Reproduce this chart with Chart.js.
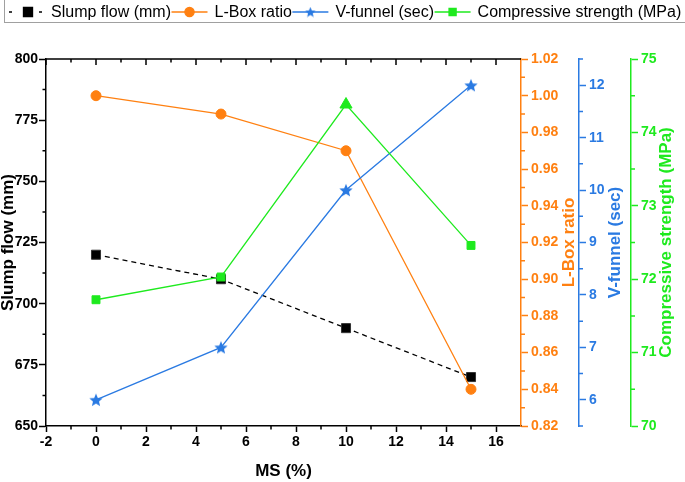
<!DOCTYPE html>
<html>
<head>
<meta charset="utf-8">
<script src="https://cdn.jsdelivr.net/npm/chart.js@4"></script>
<style>
html,body{margin:0;padding:0;background:#fff;}
#wrap{width:685px;height:482px;position:relative;}
</style>
</head>
<body>
<div id="wrap"><canvas id="c" width="685" height="482"></canvas></div>
<script>
// ---- data ----
const msPct = [0, 5, 10, 15];
const slumpFlow = [720, 710, 690, 670];
const lBoxRatio = [1.00, 0.99, 0.97, 0.84];
const vFunnel = [6.0, 7.0, 10.0, 12.0];
const compStrength = [71.72, 72.03, 74.38, 72.46];
const compMarkers = ['rect', 'rect', 'triangle', 'rect'];

const seriesLabels = ['Slump flow (mm)', 'L-Box ratio', 'V-funnel (sec)', 'Compressive strength (MPa)'];

// ---- ticks ----
const xTicks = [-2, 0, 2, 4, 6, 8, 10, 12, 14, 16];
const slumpTicks = [650, 675, 700, 725, 750, 775, 800];
const lBoxTicks = [0.82, 0.84, 0.86, 0.88, 0.90, 0.92, 0.94, 0.96, 0.98, 1.00, 1.02];
const vFunnelTicks = [6, 7, 8, 9, 10, 11, 12];
const compTicks = [70, 71, 72, 73, 74, 75];

const xMinor = [-1, 1, 3, 5, 7, 9, 11, 13, 15];
const slumpMinor = [662.5, 687.5, 712.5, 737.5, 762.5, 787.5];
const lBoxMinor = [0.83, 0.85, 0.87, 0.89, 0.91, 0.93, 0.95, 0.97, 0.99, 1.01];
const vFunnelMinor = [5.5, 6.5, 7.5, 8.5, 9.5, 10.5, 11.5, 12.5];
const compMinor = [70.5, 71.5, 72.5, 73.5, 74.5];

const axisTitles = {x: 'MS (%)', y: 'Slump flow (mm)', y1: 'L-Box ratio', y2: 'V-funnel (sec)', y3: 'Compressive strength (MPa)'};

// ---- styles ----
const F = "'Liberation Sans', Arial, sans-serif";
const C_BLACK = '#000000';
const C_ORANGE = '#FF8011';
const C_BLUE = '#2A7AE2';
const C_GREEN = '#1EEA1E';
const TICK_SIZE = 14;

Chart.defaults.font.family = F;
Chart.defaults.font.size = TICK_SIZE;
Chart.defaults.font.weight = 'bold';

function starCanvas(size, color) {
  const c = document.createElement('canvas');
  c.width = size; c.height = size;
  const g = c.getContext('2d');
  g.fillStyle = color;
  g.beginPath();
  const R = size / 2, r = R * 0.45, cx = size / 2, cy = size / 2 + R * 0.1;
  for (let i = 0; i < 10; i++) {
    const a = -Math.PI / 2 + i * Math.PI / 5;
    const rad = (i % 2) ? r : R;
    g.lineTo(cx + rad * Math.cos(a), cy + rad * Math.sin(a));
  }
  g.closePath();
  g.fill();
  return c;
}
const starBig = starCanvas(14, C_BLUE);
const starSmall = starCanvas(11, C_BLUE);

function pts(ys) { return msPct.map((x, i) => ({x: x, y: ys[i]})); }
function setTicks(arr) { return s => { s.ticks = arr.map(v => ({value: v})); }; }

function tickFont() { return {family: F, size: TICK_SIZE, weight: 'bold'}; }

function yAxis(opts) {
  return Object.assign({
    type: 'linear',
    ticks: {color: opts.color, font: tickFont(), padding: 3, autoSkip: false, callback: opts.fmt},
    grid: {display: true, drawOnChartArea: false, tickLength: 7, tickColor: opts.color, tickWidth: 1.5},
    border: {display: true, color: opts.color, width: 1.5},
    title: {display: false}
  }, opts.extra);
}

const decor = {
  id: 'decor',
  afterDraw(chart) {
    const ctx = chart.ctx, ca = chart.chartArea, sc = chart.scales;
    ctx.save();
    ctx.lineWidth = 1.5;
    // top frame with inward ticks
    ctx.strokeStyle = C_BLACK;
    ctx.beginPath();
    ctx.moveTo(ca.left, ca.top); ctx.lineTo(ca.right, ca.top);
    xTicks.forEach(v => { const px = sc.x.getPixelForValue(v); ctx.moveTo(px, ca.top); ctx.lineTo(px, ca.top + 6); });
    xMinor.forEach(v => { const px = sc.x.getPixelForValue(v); ctx.moveTo(px, ca.top); ctx.lineTo(px, ca.top + 3.5); });
    // bottom minor ticks
    xMinor.forEach(v => { const px = sc.x.getPixelForValue(v); ctx.moveTo(px, ca.bottom); ctx.lineTo(px, ca.bottom + 3.5); });
    // left minor ticks
    slumpMinor.forEach(v => { const py = sc.y.getPixelForValue(v); ctx.moveTo(ca.left, py); ctx.lineTo(ca.left - 3.5, py); });
    ctx.stroke();
    // right axes minor ticks
    [[sc.y1, lBoxMinor, C_ORANGE], [sc.y2, vFunnelMinor, C_BLUE], [sc.y3, compMinor, C_GREEN]].forEach(([s, arr, col]) => {
      ctx.strokeStyle = col;
      ctx.beginPath();
      arr.forEach(v => { const py = s.getPixelForValue(v); ctx.moveTo(s.left, py); ctx.lineTo(s.left + 4, py); });
      ctx.stroke();
    });
    // right axis titles (reading bottom to top)
    const cy = (ca.top + ca.bottom) / 2;
    ctx.font = "bold 17px " + F;
    ctx.textAlign = 'center';
    ctx.textBaseline = 'middle';
    [[sc.y1, axisTitles.y1, C_ORANGE, 48.5], [sc.y2, axisTitles.y2, C_BLUE, 36.5], [sc.y3, axisTitles.y3, C_GREEN, 35]].forEach(([s, t, col, off]) => {
      ctx.save();
      ctx.translate(s.left + off, cy);
      ctx.rotate(-Math.PI / 2);
      ctx.fillStyle = col;
      ctx.fillText(t, 0, 0);
      ctx.restore();
    });
    // legend
    ctx.strokeStyle = '#A0A0A0';
    ctx.lineWidth = 1;
    ctx.strokeRect(4.5, -2, 720, 24.5);
    ctx.font = "16px " + F;
    ctx.textAlign = 'left';
    const ly = 12;
    let x = 8;
    const ds = chart.data.datasets;
    ds.forEach((d, i) => {
      ctx.save();
      ctx.strokeStyle = d.borderColor;
      ctx.fillStyle = d.borderColor;
      ctx.lineWidth = 1.3;
      if (d.borderDash) ctx.setLineDash([3, 12]);
      ctx.beginPath();
      ctx.moveTo(i === 0 ? x + 1 : x, ly); ctx.lineTo(x + 36, ly);
      ctx.stroke();
      ctx.setLineDash([]);
      const mx = x + (i === 0 ? 20 : 18);
      if (i === 2) {
        ctx.drawImage(starSmall, mx - starSmall.width / 2, ly - starSmall.height / 2);
      } else {
        Chart.helpers.drawPoint(ctx, {
          pointStyle: i === 1 ? 'circle' : 'rect',
          radius: i === 0 ? 6.4 : (i === 1 ? 4.6 : 5),
          borderWidth: 1, rotation: 0
        }, mx, ly);
      }
      ctx.restore();
      ctx.fillStyle = '#000';
      ctx.fillText(d.label, x + 43, ly + 1);
      x = x + 43 + ctx.measureText(d.label).width + 0.5;
    });
    ctx.restore();
  }
};

new Chart(document.getElementById('c'), {
  type: 'line',
  data: {
    datasets: [
      {
        label: seriesLabels[0], data: pts(slumpFlow), yAxisID: 'y',
        borderColor: C_BLACK, backgroundColor: C_BLACK, borderWidth: 1.3, borderDash: [5, 4],
        pointStyle: 'rect', pointRadius: 6.4, pointBorderColor: '#333', pointBackgroundColor: C_BLACK, pointBorderWidth: 1,
        order: 4
      },
      {
        label: seriesLabels[1], data: pts(lBoxRatio), yAxisID: 'y1',
        borderColor: C_ORANGE, backgroundColor: C_ORANGE, borderWidth: 1.3,
        pointStyle: 'circle', pointRadius: 5, pointBorderColor: C_ORANGE, pointBackgroundColor: C_ORANGE, pointBorderWidth: 1,
        order: 3
      },
      {
        label: seriesLabels[2], data: pts(vFunnel), yAxisID: 'y2',
        borderColor: C_BLUE, backgroundColor: C_BLUE, borderWidth: 1.3,
        pointStyle: starBig, pointRadius: 6, pointBorderColor: C_BLUE, pointBackgroundColor: C_BLUE,
        order: 2
      },
      {
        label: seriesLabels[3], data: pts(compStrength), yAxisID: 'y3',
        borderColor: C_GREEN, backgroundColor: C_GREEN, borderWidth: 1.3,
        pointStyle: compMarkers, pointRadius: [5.6, 5.6, 7, 5.6], pointBorderColor: C_GREEN, pointBackgroundColor: C_GREEN, pointBorderWidth: 1,
        order: 1
      }
    ]
  },
  options: {
    responsive: false,
    animation: false,
    devicePixelRatio: 1,
    layout: {padding: {top: 59, left: 0, right: 0, bottom: 0}},
    plugins: {legend: {display: false}, tooltip: {enabled: false}},
    scales: {
      x: {
        type: 'linear', position: 'bottom', min: -2, max: 17,
        afterBuildTicks: setTicks(xTicks),
        ticks: {color: C_BLACK, font: tickFont(), padding: 2, maxRotation: 0, autoSkip: false, callback: v => String(v)},
        grid: {display: true, drawOnChartArea: false, tickLength: 6, tickColor: C_BLACK, tickWidth: 1.5},
        border: {display: true, color: C_BLACK, width: 1.5},
        title: {display: true, text: axisTitles.x, color: C_BLACK, font: {family: F, size: 17, weight: 'bold'}, padding: 0},
        afterFit: s => { s.height = 56; }
      },
      y: yAxis({color: C_BLACK, fmt: v => String(v), extra: {
        position: 'left', min: 650, max: 800,
        afterBuildTicks: setTicks(slumpTicks),
        ticks: {color: C_BLACK, font: tickFont(), padding: 1, autoSkip: false, callback: v => String(v)},
        title: {display: true, text: axisTitles.y, color: C_BLACK, font: {family: F, size: 17, weight: 'bold', lineHeight: 1}, padding: 0},
        afterFit: s => { s.width = 46; }
      }}),
      y1: yAxis({color: C_ORANGE, fmt: v => v.toFixed(2), extra: {
        position: 'right', weight: 1, min: 0.82, max: 1.02,
        afterBuildTicks: setTicks(lBoxTicks),
        afterFit: s => { s.width = 58; }
      }}),
      y2: yAxis({color: C_BLUE, fmt: v => String(v), extra: {
        position: 'right', weight: 2, min: 5.5, max: 12.5,
        afterBuildTicks: setTicks(vFunnelTicks),
        afterFit: s => { s.width = 52; }
      }}),
      y3: yAxis({color: C_GREEN, fmt: v => String(v), extra: {
        position: 'right', weight: 3, min: 70, max: 75,
        afterBuildTicks: setTicks(compTicks),
        afterFit: s => { s.width = 54; }
      }})
    }
  },
  plugins: [decor]
});
</script>
</body>
</html>
